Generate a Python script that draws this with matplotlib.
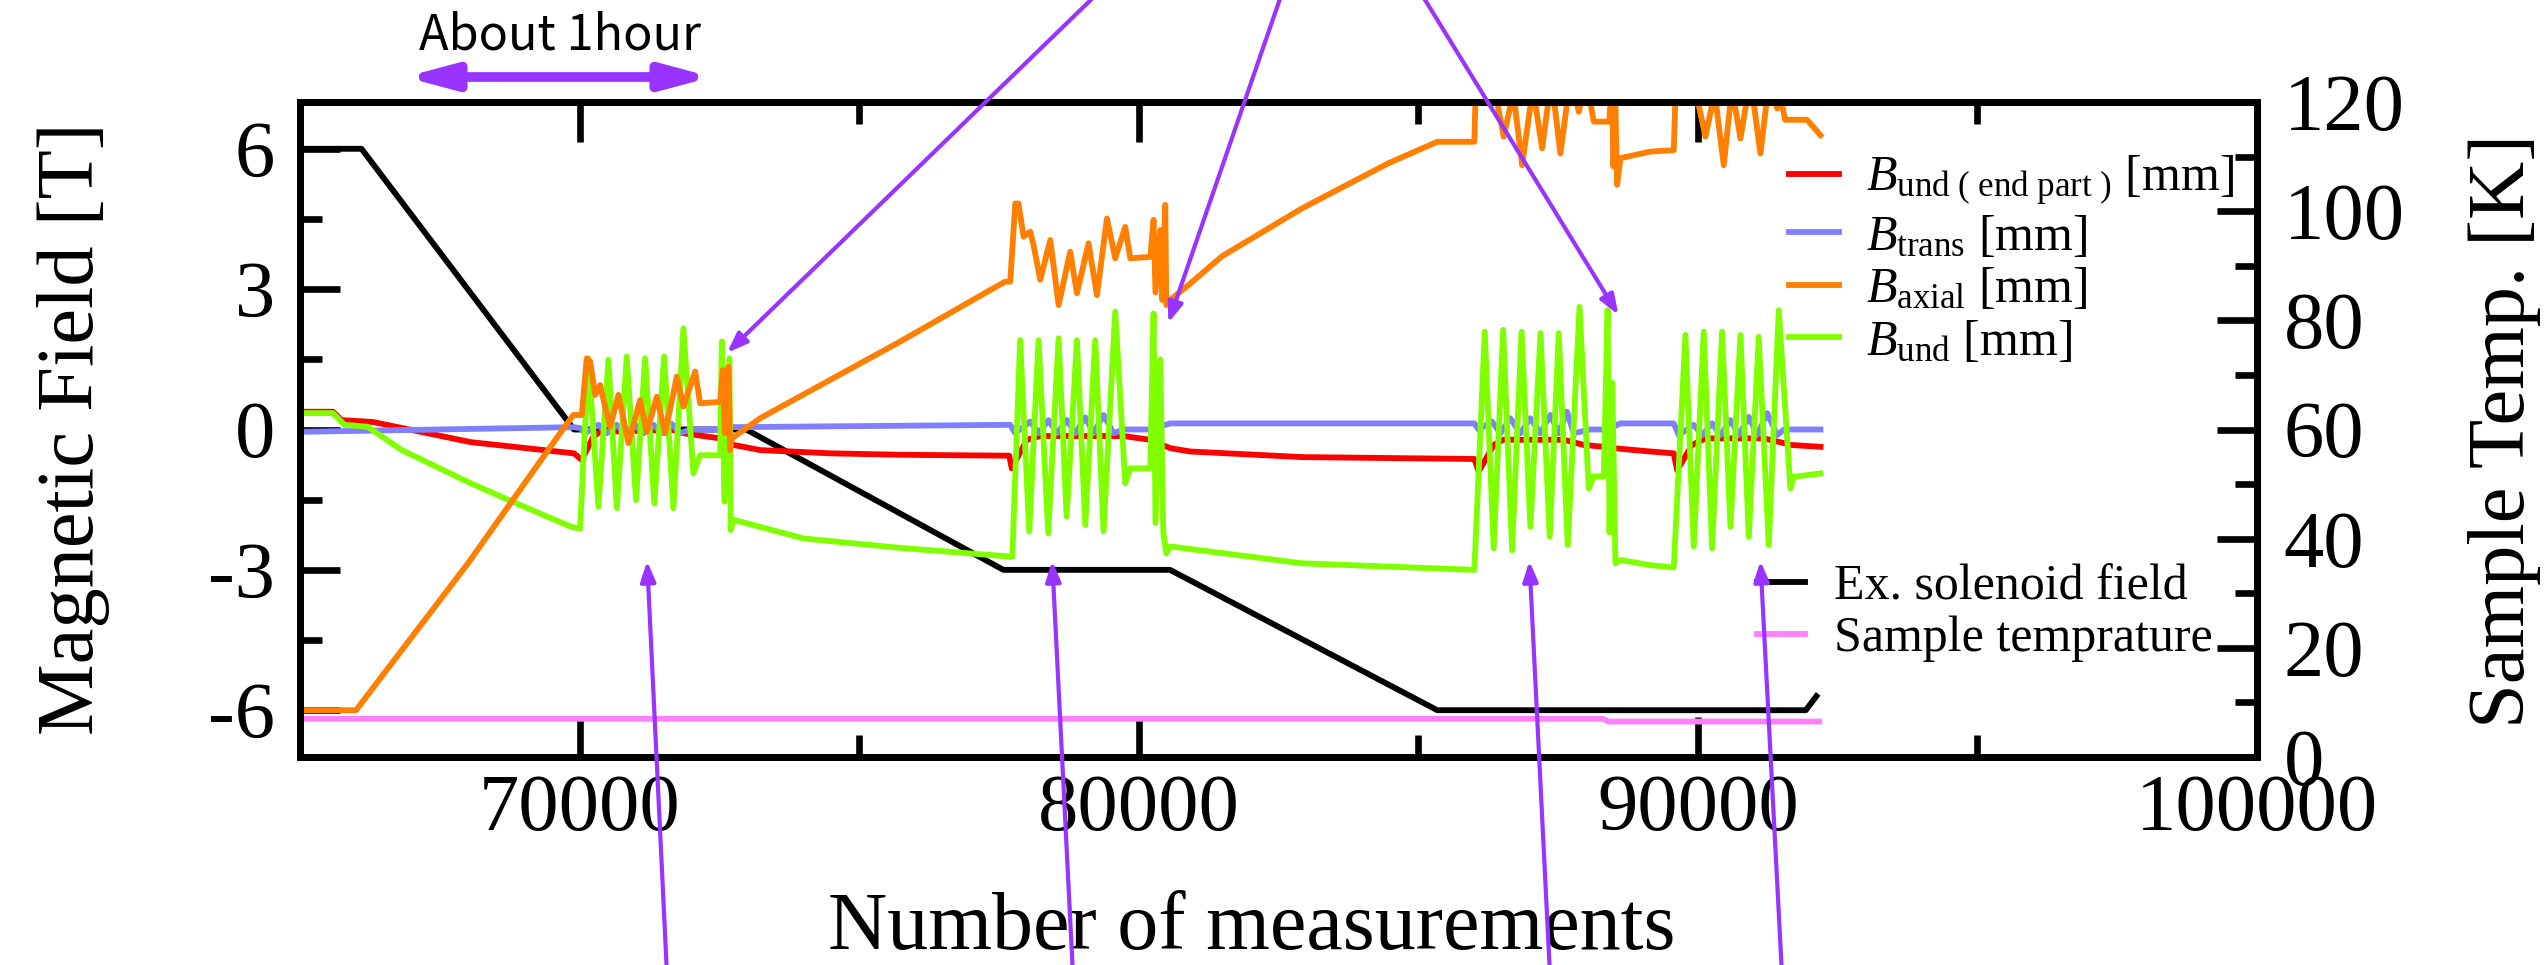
import matplotlib
matplotlib.use("Agg")
import matplotlib.pyplot as plt
from matplotlib.patches import FancyArrowPatch
from matplotlib.ticker import MultipleLocator, StrMethodFormatter

# ---------------------------------------------------------------
# Measured series (x: number of measurements)
# ---------------------------------------------------------------

# External solenoid field [T]
sol_n = [65000, 66100, 68000, 69900, 72980, 77580, 80560, 85340, 91930, 92120]
sol_b = [6.0, 6.0, 3.0, 0.0, 0.0, -3.0, -3.0, -6.0, -6.0, -5.7]

# Sample temperature [K]
temp_n = [65000, 88300, 88400, 92170]
temp_k = [7.0, 7.0, 6.5, 6.5]

# B_und (end part)
end_n = [65000, 65590, 65744, 66306, 68054, 69900, 70040, 70247, 70367, 71678,
         71857, 72514, 72752, 73229, 74500, 75734, 77684, 77730, 77998, 78240,
         79729, 80207, 80565, 80922, 82922, 86003, 86080, 86349, 86520, 87600,
         87959, 88318, 88500, 89152, 89569, 89629, 89897, 90135, 91180, 91537,
         91656, 92193]
end_b = [0.38, 0.38, 0.20, 0.16, -0.27, -0.51, -0.65, -0.15, -0.05, -0.01,
         -0.08, -0.19, -0.33, -0.44, -0.51, -0.54, -0.56, -0.83, -0.22, -0.14,
         -0.14, -0.22, -0.40, -0.47, -0.59, -0.63, -0.90, -0.33, -0.22, -0.22,
         -0.33, -0.37, -0.40, -0.47, -0.51, -0.87, -0.33, -0.19, -0.19, -0.29,
         -0.33, -0.37]

# B_trans
trans_n = [65000, 69900, 70009, 70099, 70337, 70486, 70666, 70814, 70993, 71142,
           71321, 71470, 71650, 71798, 71977, 72514, 72752, 77702, 77792, 78060,
           78209, 78387, 78537, 78716, 78865, 79043, 79193, 79371, 79551, 79729,
           80207, 80565, 86003, 86080, 86318, 86468, 86645, 86826, 87003, 87184,
           87361, 87512, 87659, 87780, 88078, 88377, 88615, 89569, 89660, 89927,
           90076, 90255, 90404, 90583, 90732, 90911, 91061, 91240, 91418, 91540,
           92193]
trans_b = [-0.05, 0.05, 0.03, -0.08, 0.10, -0.08, 0.10, -0.08, 0.10, -0.08,
           0.10, -0.08, 0.12, -0.08, 0.0, 0.0, 0.05, 0.10, -0.08, 0.17,
           -0.08, 0.20, -0.08, 0.20, -0.08, 0.26, -0.08, 0.31, -0.08, 0.0,
           0.0, 0.13, 0.13, 0.0, 0.17, -0.08, 0.24, -0.08, 0.24, -0.08,
           0.31, -0.08, 0.38, -0.08, 0.0, 0.0, 0.13, 0.13, -0.12, 0.10,
           -0.12, 0.13, -0.12, 0.20, -0.12, 0.27, -0.12, 0.35, -0.12, 0.0,
           0.0]

# B_axial
axial_n = [65000, 66002, 68004, 69651, 69890, 70040,
           70128, 70190, 70278, 70367, 70456, 70546, 70695, 70874, 71083, 71202,
           71381, 71530, 71739, 71857, 72067, 72156, 72514, 72562, 72600, 72663,
           72693, 72723,
           73229, 75734, 77344, 77612, 77702,
           77792, 77850, 77941, 78060, 78119, 78239, 78418, 78567, 78775, 78895,
           79103, 79253, 79432, 79580, 79759, 79849, 80207, 80266, 80300, 80386,
           80420, 80475, 80493, 80595,
           80922, 81486, 82925, 84464, 85341, 86003,
           86040, 86110, 86242, 86361, 86528, 86700, 86857, 87050, 87215, 87380,
           87542, 87730, 87870, 88000, 88139, 88418, 88460, 88490, 88520, 88556,
           88615,
           89152, 89569,
           89620, 89700, 89830, 89950, 90135, 90300, 90463, 90610, 90762, 90940,
           91119, 91290, 91418, 91480, 91560, 91954, 92193]
axial_b = [-6.0, -6.0, -2.86, -0.08, 0.31, 0.31,
           1.52, 1.45, 0.74, 0.95, 0.49, 0.06, 0.74, -0.29, 0.63, -0.05,
           0.70, -0.08, 1.13, 0.49, 1.24, 0.56, 0.59, 1.27, -0.08, 1.34,
           -0.44, -0.19,
           0.24, 1.88, 2.98, 3.16, 3.16,
           4.83, 4.83, 4.12, 4.23, 3.94, 3.20, 4.05, 2.66, 3.80, 2.91,
           3.98, 2.87, 4.51, 3.66, 4.33, 3.66, 3.69, 4.48, 2.93, 4.26,
           2.77, 4.80, 2.66, 2.80,
           3.12, 3.70, 4.73, 5.69, 6.15, 6.15,
           7.9, 7.9, 7.2, 7.3, 6.26, 7.2, 5.65, 7.3, 6.01, 7.5,
           5.90, 7.6, 6.79, 7.5, 6.58, 6.58, 7.6, 5.62, 7.2, 5.23,
           5.80,
           5.94, 5.97,
           7.9, 7.9, 7.2, 7.3, 6.26, 7.2, 5.65, 7.3, 6.22, 7.5,
           5.90, 7.6, 6.86, 7.1, 6.62, 6.62, 6.29]

# B_und
und_n = [65000, 65590, 65794, 66206, 66821, 68054, 68872, 69850, 70009,
         70158, 70337, 70516, 70666, 70844, 71010, 71172, 71338, 71512, 71678,
         71857, 72036, 72156, 72514, 72544, 72590, 72680, 72705, 72752,
         74011, 75734, 77740,
         77880, 78042, 78209, 78382, 78567, 78711, 78895, 79044, 79222, 79371,
         79580, 79759, 79849, 80207, 80266, 80300, 80386, 80440, 80493, 80565,
         82922, 86003,
         86189, 86349, 86518, 86678, 86847, 87005, 87186, 87351, 87513, 87673,
         87884, 88049, 88139, 88318, 88386, 88420, 88470, 88526, 88615,
         89152, 89569,
         89777, 89927, 90105, 90255, 90433, 90583, 90762, 90911, 91089, 91268,
         91447, 91656, 91716, 92193]
und_b = [0.35, 0.35, 0.10, 0.06, -0.44, -1.15, -1.58, -2.08, -2.12,
         1.52, -1.65, 1.49, -1.68, 1.56, -1.51, 1.52, -1.58, 1.56, -1.68,
         2.16, -0.94, -0.55, -0.55, 1.88, -1.54, 1.52, -2.15, -1.93,
         -2.33, -2.53, -2.72,
         1.91, -2.18, 1.91, -2.22, 1.95, -1.86, 1.91, -2.04, 1.91, -2.18,
         2.52, -1.15, -0.83, -0.83, 2.48, -2.00, 1.50, -2.20, -2.65, -2.50,
         -2.86, -3.00,
         2.09, -2.54, 2.13, -2.58, 2.09, -2.08, 2.06, -2.29, 2.06, -2.47,
         2.62, -1.26, -1.00, -1.00, 2.55, -2.20, 1.00, -2.86, -2.79,
         -2.90, -2.95,
         2.02, -2.50, 2.09, -2.54, 2.09, -2.08, 2.02, -2.29, 1.98, -2.47,
         2.55, -1.26, -1.01, -0.94]

# annotation arrows: tip on the data, tail outside the frame (figure pixels)
top_tips = [(72639, 1.64), (80529, 2.28), (88579, 2.45)]
top_tails = [(1101, 975), (1283, 975), (1419, 975)]
bottom_tips = [(71208, -2.81), (78453, -2.81), (86987, -2.81), (91119, -2.81)]
bottom_tails = [(667, -10), (1073, -10), (1550, -10), (1782, -10)]

# ---------------------------------------------------------------
# Style
# ---------------------------------------------------------------
plt.rcParams['font.family'] = 'Liberation Serif'
plt.rcParams['mathtext.fontset'] = 'custom'
plt.rcParams['mathtext.rm'] = 'Liberation Serif'
plt.rcParams['mathtext.it'] = 'Liberation Serif:italic'
plt.rcParams['axes.unicode_minus'] = False
plt.rcParams['lines.solid_joinstyle'] = 'round'

W, H, DPI = 2547, 965, 100
LW = 4.2
PURPLE = '#9933ff'

fig = plt.figure(figsize=(W / DPI, H / DPI), dpi=DPI)
ax = fig.add_axes([300 / W, 1 - 757 / H, (2257 - 300) / W, (757 - 102) / H])
ax2 = ax.twinx()

l_sol, = ax.plot(sol_n, sol_b, color='black', lw=LW, zorder=1.5,
                 label='Ex. solenoid field')
l_end, = ax.plot(end_n, end_b, color='#ff0000', lw=LW,
                 label=r'$B_{\mathrm{und\ (\ end\ part\ )}}$ [mm]')
l_trans, = ax.plot(trans_n, trans_b, color='#8080ff', lw=LW,
                   label=r'$B_{\mathrm{trans}}$ [mm]')
l_und, = ax.plot(und_n, und_b, color='#80ff00', lw=LW,
                 label=r'$B_{\mathrm{und}}$ [mm]')
l_axial, = ax.plot(axial_n, axial_b, color='#ff8000', lw=LW,
                   label=r'$B_{\mathrm{axial}}$ [mm]')
l_temp, = ax2.plot(temp_n, temp_k, color='#ff80ff', lw=LW, label='Sample temprature')

ax.set_xlim(65000, 100000)
ax.set_ylim(-7, 7)
ax2.set_ylim(0, 120)

ax.xaxis.set_major_locator(MultipleLocator(10000))
ax.xaxis.set_minor_locator(MultipleLocator(5000))
ax.xaxis.set_major_formatter(StrMethodFormatter('{x:.0f}'))
ax.yaxis.set_major_locator(MultipleLocator(3))
ax.yaxis.set_minor_locator(MultipleLocator(1.5))
ax2.yaxis.set_major_locator(MultipleLocator(20))
ax2.yaxis.set_minor_locator(MultipleLocator(10))

for a in (ax, ax2):
    for s in a.spines.values():
        s.set_linewidth(5)
    a.tick_params(which='both', direction='in', width=4.8, labelsize=58)
    a.tick_params(which='major', length=29)
    a.tick_params(which='minor', length=16)
ax.tick_params(axis='x', which='both', top=True, pad=12)
ax.tick_params(axis='y', which='both', left=True, right=False, pad=18)
ax2.tick_params(axis='y', which='both', right=True, left=False, pad=19)

ax.set_xlabel('Number of measurements', fontsize=59)
ax.xaxis.set_label_coords(0.4865, -0.2046)
ax.set_ylabel('Magnetic Field [T]', fontsize=58)
ax.yaxis.set_label_coords(-0.097, 0.502)
ax2.set_ylabel('Sample Temp. [K]', fontsize=58)
ax2.yaxis.set_label_coords(1.1078, 0.498)

leg1 = ax.legend(handles=[l_end, l_trans, l_axial, l_und], loc='center left',
                 bbox_to_anchor=(1789 / W, 1 - 260 / H), bbox_transform=fig.transFigure,
                 frameon=False, fontsize=36, borderpad=0, borderaxespad=0,
                 handlelength=1.0, handletextpad=0.54, labelspacing=0.12)
leg2 = ax2.legend(handles=[l_sol, l_temp], loc='center left',
                  bbox_to_anchor=(1757 / W, 1 - 613 / H), bbox_transform=fig.transFigure,
                  frameon=False, fontsize=36, borderpad=0, borderaxespad=0,
                  handlelength=0.95, handletextpad=0.58, labelspacing=0.12)

# purple arrows pointing at the rotation events
arrow_kw = dict(arrowstyle='-|>,head_length=12,head_width=4.5', color=PURPLE, lw=3,
                shrinkA=0, shrinkB=0, mutation_scale=1)
for tip, tail in zip(top_tips + bottom_tips, top_tails + bottom_tails):
    ax2.annotate('', xy=tip, xycoords=ax.transData, xytext=tail,
                 textcoords='figure pixels', arrowprops=arrow_kw,
                 annotation_clip=False, zorder=10)

# "About 1hour" scale bar above the frame
fig.add_artist(FancyArrowPatch((405 / W, 1 - 77 / H), (712 / W, 1 - 77 / H),
                               transform=fig.transFigure, shrinkA=0, shrinkB=0,
                               arrowstyle='<|-|>,head_length=28,head_width=7.5',
                               mutation_scale=1, lw=7, color=PURPLE))
fig.text(560 / W, 1 - 50 / H, 'About 1hour', ha='center', va='baseline',
         fontsize=35, family='Noto Sans CJK JP')

fig.savefig('out.png', dpi=DPI)
